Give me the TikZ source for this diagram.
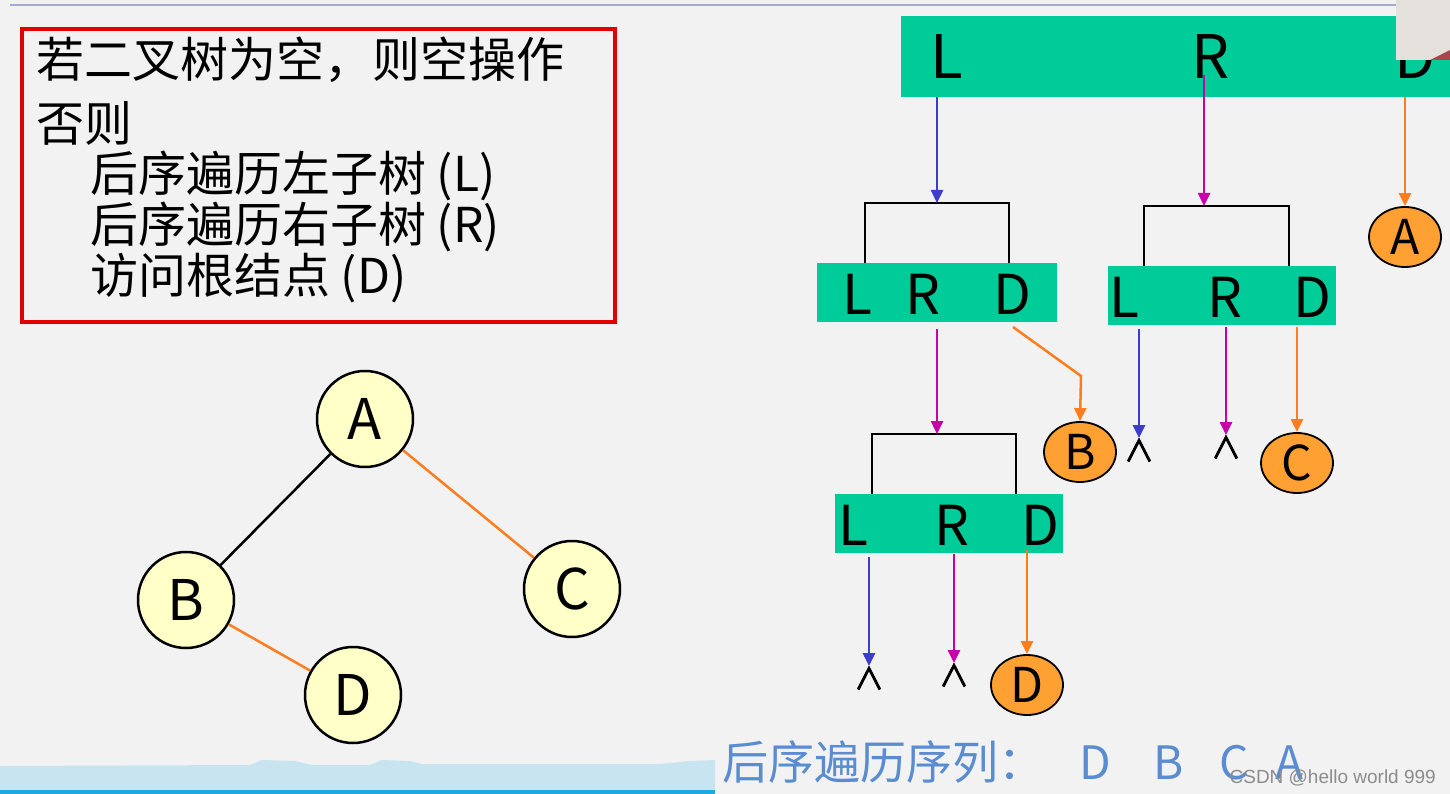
\documentclass[tikz,border=0pt]{standalone}
\usepackage{fontspec}
\setmainfont{Noto Sans CJK SC}
\newfontfamily\wmfont{Liberation Sans}
\newfontfamily\emptymarkfont[FakeBold=2.5]{Noto Sans CJK SC}
\usetikzlibrary{shapes.geometric,arrows.meta}
\definecolor{bg}{RGB}{242,242,242}
\definecolor{topline}{RGB}{165,172,205}
\definecolor{boxred}{RGB}{225,0,0}
\definecolor{grn}{RGB}{0,204,153}
\definecolor{arrblue}{RGB}{60,60,205}
\definecolor{arrmag}{RGB}{200,0,170}
\definecolor{arrorg}{RGB}{255,125,30}
\definecolor{orgfill}{RGB}{255,160,50}
\definecolor{yel}{RGB}{255,255,200}
\definecolor{txtblue}{RGB}{90,140,210}
\definecolor{band}{RGB}{200,228,240}
\definecolor{bandline}{RGB}{30,170,225}
\definecolor{ovgray}{RGB}{228,224,220}
\definecolor{ovred}{RGB}{170,70,80}
\begin{document}
\begin{tikzpicture}[x=1pt,y=-1pt,
  treenode/.style={circle,draw=black,line width=2.5pt,fill=yel,minimum size=96pt,inner sep=0pt,font=\fontsize{56}{60}\selectfont},
  orgnode/.style={ellipse,draw=black,line width=1.8pt,fill=orgfill,minimum width=72pt,minimum height=60pt,inner sep=0pt,font=\fontsize{48}{52}\selectfont},
  grnbox/.style={rectangle,fill=grn,inner sep=0pt,anchor=north west},
  letter/.style={inner sep=0pt,font=\fontsize{55}{60}\selectfont},
  bigletter/.style={inner sep=0pt,font=\fontsize{60}{64}\selectfont},
  cjkline/.style={inner sep=0pt,anchor=west,font=\fontsize{48}{52}\selectfont},
  nullmark/.style={inner sep=0pt,font=\emptymarkfont\fontsize{30}{34}\selectfont},
  arr/.style={line width=2.5pt,-{Triangle[length=13pt,width=12pt]}},
  bracket/.style={line width=2.5pt,black}
]
% background
\fill[bg] (0,0) rectangle (1450,794);
\useasboundingbox (0,0) rectangle (1450,794);
\draw[topline,line width=1.5pt] (10,5) -- (1400,5);
% bottom band
\fill[band] (0,766) -- (250,765) -- (262,760) -- (295,761) -- (312,765) -- (370,765) -- (382,760) -- (410,761) -- (422,764) -- (660,764) -- (690,761) -- (715,760) -- (715,791) -- (0,791) -- cycle;
\fill[bandline] (0,790) rectangle (715,794);

% red box
\node[draw=boxred,line width=4pt,minimum width=593pt,minimum height=293pt,anchor=north west,inner sep=0pt] (rule) at (20,27) {};
\node[cjkline] (r1) at (36,60) {若二叉树为空，则空操作};
\node[cjkline] (r2) at (36,123) {否则};
\node[cjkline] (r3) at (90,176) {后序遍历左子树 (L)};
\node[cjkline] (r4) at (90,227) {后序遍历右子树 (R)};
\node[cjkline] (r5) at (90,278) {访问根结点 (D)};

% left tree
\node[treenode] (A) at (365,419) {A};
\node[treenode] (B) at (186,600) {B};
\node[treenode] (C) at (572,589) {C};
\node[treenode] (D) at (353,695) {D};
\draw[line width=2.5pt,black] (A) -- (B);
\draw[line width=2.5pt,arrorg] (A) -- (C);
\draw[line width=2.5pt,arrorg] (B) -- (D);

% top green box
\node[grnbox,minimum width=549pt,minimum height=81pt] (g1) at (901,16) {};
\node[bigletter] (g1L) at (947,57) {L};
\node[bigletter] (g1R) at (1211,57) {R};
\node[bigletter] (g1D) at (1415,57) {D};
% screen overlay in top right corner
\fill[ovgray] (1396,0) rectangle (1450,60);
\fill[ovred] (1430,60) -- (1450,50) -- (1450,60) -- cycle;

% box 2
\node[grnbox,minimum width=240pt,minimum height=59pt] (g2) at (817,263) {};
\node[letter] (g2L) at (857,294) {L};
\node[letter] (g2R) at (923,294) {R};
\node[letter] (g2D) at (1012,294) {D};
% box 3
\node[grnbox,minimum width=228pt,minimum height=59pt] (g3) at (1108,266) {};
\node[letter] (g3L) at (1124,297) {L};
\node[letter] (g3R) at (1225,297) {R};
\node[letter] (g3D) at (1312,297) {D};
% box 4
\node[grnbox,minimum width=228pt,minimum height=59pt] (g4) at (835,494) {};
\node[letter] (g4L) at (853,525) {L};
\node[letter] (g4R) at (952,525) {R};
\node[letter] (g4D) at (1040,525) {D};

% orange result nodes
\node[orgnode] (oA) at (1405,237) {A};
\node[orgnode] (oB) at (1080,452) {B};
\node[orgnode] (oC) at (1297,463) {C};
\node[orgnode] (oD) at (1027,685) {D};

% null marks
\node[nullmark] (n1) at (1139,450) {∧};
\node[nullmark] (n2) at (1226,447) {∧};
\node[nullmark] (n3) at (869,678) {∧};
\node[nullmark] (n4) at (954,675) {∧};

% brackets
\coordinate (b1l) at (865,263); \coordinate (b1r) at (1009,263);
\coordinate (b1t) at (937,203);
\draw[bracket] (b1l) |- (b1t) -| (b1r);
\coordinate (b2l) at (1144,266); \coordinate (b2r) at (1289,266);
\coordinate (b2t) at (1204,206);
\draw[bracket] (b2l) |- (b2t) -| (b2r);
\coordinate (b3l) at (872,494); \coordinate (b3r) at (1016,494);
\coordinate (b3t) at (937,434);
\draw[bracket] (b3l) |- (b3t) -| (b3r);

% arrows from top box
\coordinate (s1L) at (937,97);
\coordinate (s1R) at (1204,75);
\coordinate (s1D) at (1405,97);
\draw[arr,arrblue] (s1L) -- (b1t);
\draw[arr,arrmag] (s1R) -- (b2t);
\draw[arr,arrorg] (s1D) -- (oA.north);

% arrows from box 2
\coordinate (s2R) at (937,329);
\coordinate (s2D) at (1013,327);
\coordinate (k2D) at (1081,376);
\draw[arr,arrmag] (s2R) -- (b3t);
\draw[arr,arrorg] (s2D) -- (k2D) -- (oB.north);

% arrows from box 3
\coordinate (s3L) at (1139,329);
\coordinate (s3R) at (1226,327);
\coordinate (s3D) at (1297,327);
\draw[arr,arrblue] (s3L) -- (s3L |- n1.north);
\draw[arr,arrmag] (s3R) -- (s3R |- n2.north);
\draw[arr,arrorg] (s3D) -- (oC.north);

% arrows from box 4
\coordinate (s4L) at (869,557);
\coordinate (s4R) at (954,554);
\coordinate (s4D) at (1027,550);
\draw[arr,arrblue] (s4L) -- (s4L |- n3.north);
\draw[arr,arrmag] (s4R) -- (s4R |- n4.north);
\draw[arr,arrorg] (s4D) -- (oD.north);

% bottom result text
\node[inner sep=0pt,anchor=west,text=txtblue,font=\fontsize{46}{50}\selectfont] (seq) at (722,762)
  {后序遍历序列：\hspace{35pt}D\hspace{43pt}B\hspace{35pt}C\hspace{27pt}A};
% watermark
\node[inner sep=0pt,anchor=east,text=black!45,font=\wmfont\fontsize{19}{21}\selectfont] (wm) at (1436,778) {CSDN @hello world 999};
\end{tikzpicture}
\end{document}
